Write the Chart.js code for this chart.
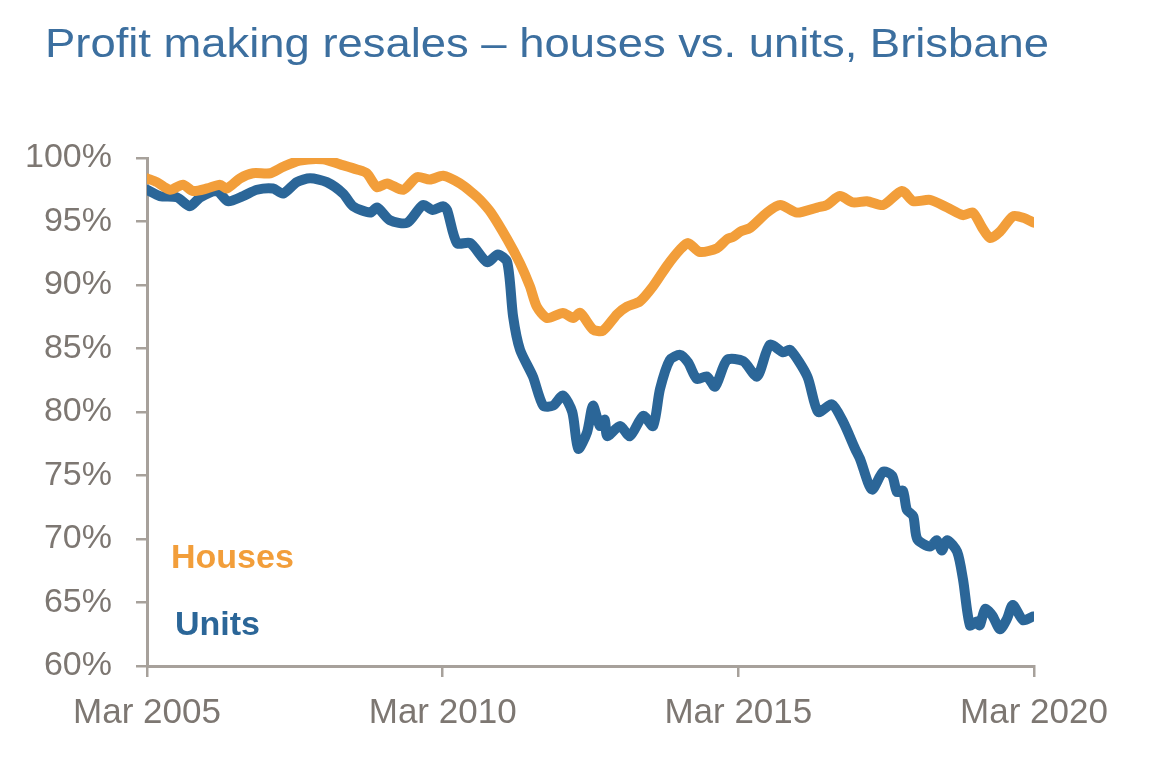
<!DOCTYPE html>
<html>
<head>
<meta charset="utf-8">
<script src="https://cdn.jsdelivr.net/npm/chart.js@4.4.1/dist/chart.umd.min.js"></script>
<style>
  html, body { margin: 0; padding: 0; background: #fff; }
  #wrap { width: 1160px; height: 764px; }
</style>
</head>
<body>
<div id="wrap"><canvas id="chart"></canvas></div>
<script>
// Months since Mar 2005
const housesMonths = [0, 2, 4.7, 7.3, 9.3, 12.2, 14.8, 16.2, 18.9, 21.5, 25, 27.6, 31, 35.7, 39.2, 42.6, 44.6, 46.7, 48.7, 52, 54.8, 57.4, 60.1, 63.5, 66.2, 67.6, 69.8, 73.1, 75.7, 77.7, 79.1, 81.2, 84.4, 86.5, 87.9, 90.5, 92.5, 95.4, 97.4, 100, 102.7, 105.5, 108.2, 109.8, 112.2, 115.7, 117.7, 119, 120.4, 122.4, 125.8, 128.5, 131.9, 136, 138, 140.6, 143.3, 146.1, 149.4, 153.2, 155.5, 158.9, 162.4, 165.6, 167.6, 169.5, 171.1, 173.1, 175.7, 177.8, 180];
const housesValues = [98.4, 98.1, 97.5, 97.9, 97.4, 97.6, 97.9, 97.6, 98.4, 98.8, 98.8, 99.3, 99.8, 99.9, 99.5, 99.1, 98.8, 97.7, 98.0, 97.5, 98.5, 98.3, 98.6, 98.0, 97.2, 96.7, 95.7, 93.6, 91.7, 89.9, 88.3, 87.4, 87.8, 87.4, 87.8, 86.5, 86.4, 87.7, 88.3, 88.7, 89.9, 91.5, 92.8, 93.3, 92.6, 92.9, 93.6, 93.8, 94.2, 94.5, 95.7, 96.3, 95.7, 96.1, 96.3, 97.0, 96.5, 96.6, 96.3, 97.4, 96.6, 96.7, 96.1, 95.5, 95.7, 94.5, 93.7, 94.2, 95.4, 95.3, 94.9];

const unitsMonths = [0, 2.6, 6.1, 8.7, 10.8, 14.2, 16.4, 19.5, 22.3, 25.6, 27.6, 30.4, 33.1, 36.5, 39.8, 41.8, 45.3, 46.7, 49.3, 52.8, 56, 58, 60.1, 60.9, 62.9, 65.6, 69, 71.2, 73.1, 74.3, 75.7, 78.3, 80.4, 82.4, 84.4, 86.3, 87.5, 89.3, 90.5, 91.9, 92.9, 93.4, 96, 98, 100.7, 102.7, 104.1, 106.1, 108.2, 109.8, 111.6, 113.6, 115.3, 117.7, 121, 123.8, 126.4, 129.1, 130.5, 134, 136.2, 139, 141.3, 143.7, 144.7, 147.1, 149.4, 151.2, 152.2, 153.4, 154.2, 155.5, 156.3, 158.9, 160.3, 161.3, 162.4, 164.4, 165.6, 167, 168.4, 169, 170.1, 171.5, 173.1, 174.5, 175.7, 177.8, 179.8];
const unitsValues = [97.5, 97.0, 96.9, 96.2, 96.9, 97.4, 96.6, 97.0, 97.5, 97.6, 97.2, 98.1, 98.4, 98.1, 97.2, 96.2, 95.7, 96.1, 95.1, 94.9, 96.3, 95.9, 96.2, 95.9, 93.3, 93.3, 91.8, 92.4, 91.8, 87.5, 84.9, 82.8, 80.5, 80.5, 81.3, 80.0, 77.1, 78.4, 80.5, 78.9, 79.4, 78.1, 78.9, 78.1, 79.7, 78.9, 81.8, 84.1, 84.5, 83.9, 82.6, 82.8, 82.0, 84.1, 84.0, 82.8, 85.3, 84.7, 84.9, 82.8, 80.0, 80.6, 79.2, 77.1, 76.3, 73.9, 75.3, 75.0, 73.7, 73.8, 72.3, 71.8, 70.0, 69.4, 69.9, 69.1, 69.9, 69.0, 66.8, 63.2, 63.5, 63.2, 64.5, 64.0, 62.9, 63.7, 64.8, 63.6, 63.9];

const yTicks = [60, 65, 70, 75, 80, 85, 90, 95, 100];
const xTickMonths = [0, 60, 120, 180];
const xTickLabels = ["Mar 2005", "Mar 2010", "Mar 2015", "Mar 2020"];

const titleText = "Profit making resales \u2013 houses vs. units, Brisbane";

const ORANGE = "#f29e3a";
const BLUE = "#2b6698";
const AXIS = "#a7a19b";
const TEXT = "#7d7772";

// Draws the title and the in-chart series labels
const textPlugin = {
  id: "textPlugin",
  afterDraw(chart) {
    const ctx = chart.ctx;
    ctx.save();
    ctx.textBaseline = "alphabetic";
    ctx.textAlign = "left";
    ctx.fillStyle = "#3c6f9f";
    ctx.font = "40px 'Liberation Sans', Arial, sans-serif";
    // title in the reference is a little wider than plain Arial
    const w = ctx.measureText(titleText).width;
    const sx = 1004 / w;
    ctx.save();
    ctx.translate(45, 57);
    ctx.scale(sx, 1);
    ctx.fillText(titleText, 0, 0);
    ctx.restore();

    ctx.font = "bold 34px 'Liberation Sans', Arial, sans-serif";
    ctx.fillStyle = ORANGE;
    ctx.fillText("Houses", 171, 568);
    ctx.fillStyle = BLUE;
    ctx.fillText("Units", 175, 635);
    ctx.restore();
  },
};

const ctx = document.getElementById("chart").getContext("2d");

new Chart(ctx, {
  type: "line",
  data: {
    datasets: [
      {
        label: "Houses",
        data: housesMonths.map((m, i) => ({ x: m, y: housesValues[i] })),
        borderColor: ORANGE,
        borderWidth: 10,
        pointRadius: 0,
        tension: 0.25,
        borderJoinStyle: "round",
        borderCapStyle: "round",
      },
      {
        label: "Units",
        data: unitsMonths.map((m, i) => ({ x: m, y: unitsValues[i] })),
        borderColor: BLUE,
        borderWidth: 10,
        pointRadius: 0,
        tension: 0.25,
        borderJoinStyle: "round",
        borderCapStyle: "round",
      },
    ],
  },
  options: {
    responsive: true,
    maintainAspectRatio: false,
    animation: false,
    layout: {
      padding: { top: 158, right: 126, left: 0, bottom: 0 },
    },
    scales: {
      x: {
        type: "linear",
        min: 0,
        max: 180,
        afterFit: (scale) => {
          scale.height = 98;
        },
        afterBuildTicks: (scale) => {
          scale.ticks = xTickMonths.map((v) => ({ value: v }));
        },
        ticks: {
          color: TEXT,
          font: { family: "'Liberation Sans', Arial, sans-serif", size: 35 },
          padding: 15,
          maxRotation: 0,
          autoSkip: false,
          callback: (value) => xTickLabels[xTickMonths.indexOf(value)],
        },
        grid: {
          drawOnChartArea: false,
          drawTicks: true,
          tickLength: 11,
          color: AXIS,
          lineWidth: 2.5,
        },
        border: { color: AXIS, width: 3 },
      },
      y: {
        min: 60,
        max: 100,
        afterFit: (scale) => {
          scale.width = 147;
        },
        afterBuildTicks: (scale) => {
          scale.ticks = yTicks.map((v) => ({ value: v }));
        },
        ticks: {
          color: TEXT,
          font: { family: "'Liberation Sans', Arial, sans-serif", size: 34 },
          padding: 24,
          callback: (value) => value + "%",
        },
        grid: {
          drawOnChartArea: false,
          drawTicks: true,
          tickLength: 11,
          color: AXIS,
          lineWidth: 2.5,
        },
        border: { color: AXIS, width: 3 },
      },
    },
    plugins: {
      legend: { display: false },
      tooltip: { enabled: false },
    },
  },
  plugins: [textPlugin],
});
</script>
</body>
</html>
